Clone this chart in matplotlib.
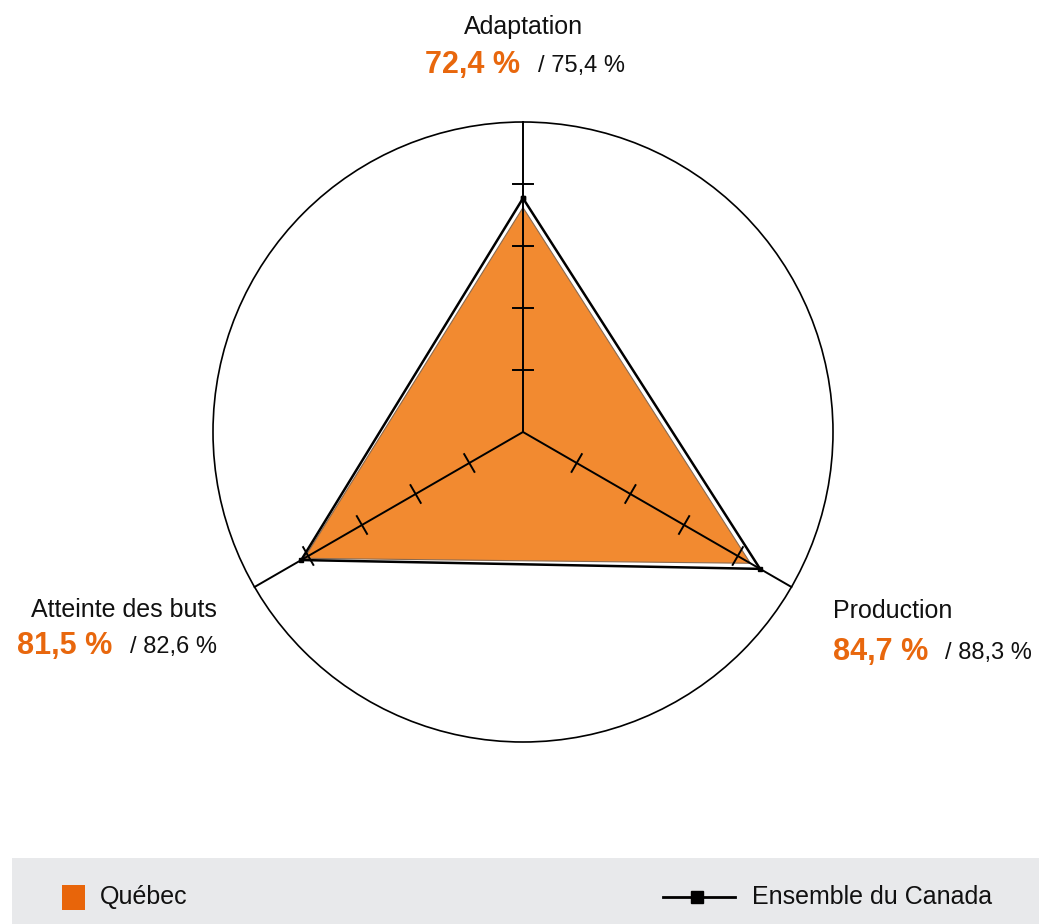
import numpy as np
import matplotlib.pyplot as plt
from matplotlib.patches import Circle, Rectangle

# Données
axes_noms = ['Adaptation', 'Production', 'Atteinte des buts']
angles_deg = [90, -30, 210]
quebec = [72.4, 84.7, 81.5]
canada = [75.4, 88.3, 82.6]
graduations = [20, 40, 60, 80]
etiq_quebec = ['72,4 %', '84,7 %', '81,5 %']
etiq_canada = ['/ 75,4 %', '/ 88,3 %', '/ 82,6 %']

orange_fond = '#f28a30'
orange_txt = '#e8670d'

plt.rcParams['font.family'] = ['Liberation Sans', 'DejaVu Sans']

# centre (523, 432) px, rayon 310 px
cx, cy, R = 523, 432, 310
W, H = 1039, 924

def px(x, y):
    return (x - cx) / R, (cy - y) / R

fig = plt.figure(figsize=(W / 100, H / 100), dpi=100)
ax = fig.add_axes([0, 0, 1, 1])
ax.set_xlim(-cx / R, (W - cx) / R)
ax.set_ylim(-(H - cy) / R, cy / R)
ax.axis('off')

th = np.radians(angles_deg)

# Québec (surface)
rq = np.array(quebec) / 100
xq, yq = rq * np.cos(th), rq * np.sin(th)
ax.fill(xq, yq, facecolor=orange_fond, edgecolor='#8a6a50', lw=0.8, zorder=1)

# Cercle extérieur
ax.add_patch(Circle((0, 0), 1, fill=False, lw=1.2, color='black', zorder=2))

# Axes et graduations
for a in th:
    ax.plot([0, np.cos(a)], [0, np.sin(a)], color='black', lw=1.4, zorder=3)
    for g in graduations:
        r = g / 100
        px0, py0 = r * np.cos(a), r * np.sin(a)
        dx, dy = -np.sin(a) * 0.033, np.cos(a) * 0.033
        ax.plot([px0 - dx, px0 + dx], [py0 - dy, py0 + dy], color='black', lw=1.4, zorder=3)

# Ensemble du Canada (ligne)
rc = np.array(canada) / 100
xc, yc = rc * np.cos(th), rc * np.sin(th)
ax.plot(np.append(xc, xc[0]), np.append(yc, yc[0]), color='black', lw=1.8,
        marker='s', markersize=3.5, zorder=4)

# Étiquettes
pos_titre = [(524, 27, 'center'), (833, 611, 'left'), (217, 610, 'right')]
pos_val = [(425, 625, 65), (833, 1032, 652), (17, 217, 646)]
for i in range(3):
    tx, ty, ha = pos_titre[i]
    ax.text(*px(tx, ty), axes_noms[i], ha=ha, va='center', fontsize=18, color='#111111')
    xo, xn, yv = pos_val[i]
    ax.text(*px(xo, yv), etiq_quebec[i], ha='left', va='center', fontsize=22,
            fontweight='bold', color=orange_txt)
    ax.text(*px(xn, yv + 1), etiq_canada[i], ha='right', va='center', fontsize=17,
            color='#111111')

# Légende
x0, y0 = px(12, 924)
x1, y1 = px(1039, 858)
ax.add_patch(Rectangle((x0, y0), x1 - x0, y1 - y0, color='#e8e9eb', lw=0, zorder=0))
sx0, sy0 = px(62, 910)
sx1, sy1 = px(85, 885)
ax.add_patch(Rectangle((sx0, sy0), sx1 - sx0, sy1 - sy0, color='#e8650a', lw=0, zorder=1))
ax.text(*px(100, 897), 'Québec', ha='left', va='center', fontsize=18, color='#111111')
lx0, ly = px(663, 897)
lx1, _ = px(735, 897)
lxm, _ = px(697, 897)
ax.plot([lx0, lx1], [ly, ly], color='black', lw=2, zorder=1)
ax.plot([lxm], [ly], marker='s', color='black', markersize=9, zorder=2)
ax.text(*px(752, 897), 'Ensemble du Canada', ha='left', va='center', fontsize=18,
        color='#111111')

fig.savefig('out.png', dpi=100)
